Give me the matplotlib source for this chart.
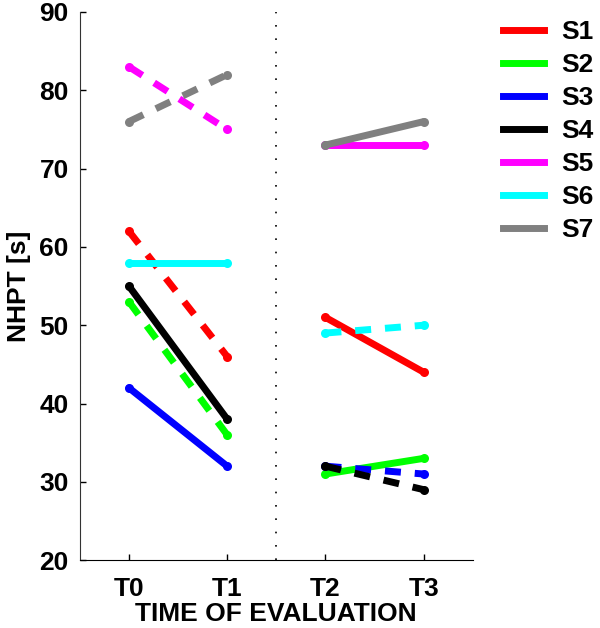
import numpy as np
import matplotlib.pyplot as plt
from matplotlib.lines import Line2D

plt.rcParams['font.family'] = ['Liberation Sans', 'DejaVu Sans']
plt.rcParams['font.weight'] = 'bold'

# NHPT time [s] per subject at each evaluation
subjects = ['S1', 'S2', 'S3', 'S4', 'S5', 'S6', 'S7']
colors = ['#ff0000', '#00ff00', '#0000ff', '#000000', '#ff00ff', '#00ffff', '#808080']
t0 = [62, 53, 42, 55, 83, 58, 76]
t1 = [46, 36, 32, 38, 75, 58, 82]
t2 = [51, 31, 32, 32, 73, 49, 73]
t3 = [44, 33, 31, 29, 73, 50, 76]
style_pre = ['--', '--', '-', '-', '--', '-', '--']
style_post = ['-', '-', '--', '--', '-', '--', '-']
tick_labels = ['T0', 'T1', 'T2', 'T3']

fig = plt.figure(figsize=(6, 6.28), dpi=100)
ax = fig.add_axes([0.133, 0.108, 0.655, 0.873])

lw = 5.0
for i, s in enumerate(subjects):
    for xs, ys, ls in [([0, 1], [t0[i], t1[i]], style_pre[i]),
                       ([2, 3], [t2[i], t3[i]], style_post[i])]:
        kw = dict(color=colors[i], lw=lw, marker='o', ms=6.5, mew=0,
                  solid_capstyle='round', dash_capstyle='butt')
        if ls == '--':
            kw['dashes'] = (2.3, 2.0)
        ax.plot(xs, ys, **kw)

ax.axvline(1.5, color='black', lw=1.2, ls=(0, (1, 7)))

ax.set_xlim(-0.5, 3.5)
ax.set_ylim(20, 90)
ax.set_xticks(range(4))
ax.set_xticklabels(tick_labels)
ax.set_yticks(np.arange(20, 91, 10))
ax.tick_params(axis='y', direction='in', length=4, width=1, labelsize=19, pad=8)
ax.tick_params(axis='x', direction='in', length=4, width=1, labelsize=19, pad=12)
for lab in ax.get_xticklabels() + ax.get_yticklabels():
    lab.set_fontweight('bold')
for sp in ['top', 'right']:
    ax.spines[sp].set_visible(False)
ax.spines['left'].set_color('#333333')
ax.spines['bottom'].set_color('black')

ax.set_xlabel('TIME OF EVALUATION', fontsize=19, fontweight='bold', labelpad=1)
ax.set_ylabel('NHPT [s]', fontsize=19, fontweight='bold', labelpad=6)

handles = [Line2D([], [], color=c, lw=lw, marker='o', ms=3, mew=0) for c in colors]
leg = fig.legend(handles, subjects, loc='upper left', bbox_to_anchor=(0.838, 0.968),
                 frameon=False, fontsize=19, handlelength=1.55, handletextpad=0.65,
                 labelspacing=0.34, borderpad=0, borderaxespad=0)
for t in leg.get_texts():
    t.set_fontweight('bold')

fig.savefig('out.png', dpi=100)
